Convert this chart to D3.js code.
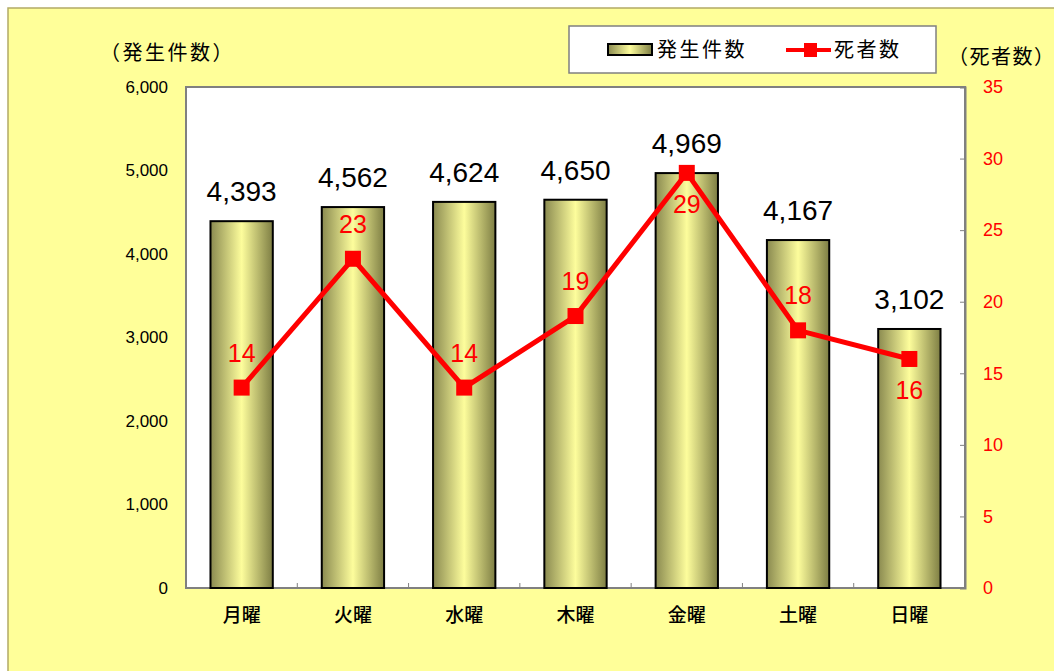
<!DOCTYPE html>
<html>
<head>
<meta charset="utf-8">
<script src="https://d3js.org/d3.v7.min.js"></script>
<style>
  body { margin: 0; background: #fff; }
  text { font-family: "Liberation Sans", Arial, sans-serif; }
  .jp { font-family: "Noto Sans CJK JP", sans-serif; }
</style>
</head>
<body>
<svg id="chart" width="1054" height="671"></svg>
<script>
// data
var days = ["月曜", "火曜", "水曜", "木曜", "金曜", "土曜", "日曜"];
var accidents = [4393, 4562, 4624, 4650, 4969, 4167, 3102];
var deaths = [14, 23, 14, 19, 29, 18, 16];
var deathLabelSide = ["above", "above", "above", "above", "below", "above", "below"];
var leftTicks = [0, 1000, 2000, 3000, 4000, 5000, 6000];
var rightTicks = [0, 5, 10, 15, 20, 25, 30, 35];

var svg = d3.select("#chart");

var plot = {left: 186, top: 87, right: 965, bottom: 588};

// gradient for the bars
var defs = svg.append("defs");
var grad = defs.append("linearGradient")
    .attr("id", "barGrad")
    .attr("x1", "0%").attr("x2", "100%")
    .attr("y1", "0%").attr("y2", "0%");
grad.append("stop").attr("offset", "0%").attr("stop-color", "#8a8a50");
grad.append("stop").attr("offset", "50%").attr("stop-color", "#fdfd9c");
grad.append("stop").attr("offset", "100%").attr("stop-color", "#7e7e44");

// background
svg.append("rect")
    .attr("x", 8).attr("y", 8)
    .attr("width", 1060).attr("height", 680)
    .attr("fill", "#ffff99")
    .attr("stroke", "#b3aa66")
    .attr("stroke-width", 1.5);

// plot area
svg.append("rect")
    .attr("x", plot.left).attr("y", plot.top)
    .attr("width", plot.right - plot.left)
    .attr("height", plot.bottom - plot.top)
    .attr("fill", "#fff")
    .attr("stroke", "#808080")
    .attr("stroke-width", 2);

var x = d3.scaleBand().domain(days).range([plot.left, plot.right]).paddingInner(0).paddingOuter(0);
var yLeft = d3.scaleLinear().domain([0, 6000]).range([plot.bottom, plot.top]);
var yRight = d3.scaleLinear().domain([0, 35]).range([plot.bottom, plot.top]);

var barW = x.bandwidth() * 0.56;

// category ticks on the bottom (inward)
svg.append("g").selectAll("line")
    .data(days.slice(1))
    .enter()
    .append("line")
    .attr("x1", d => x(d)).attr("x2", d => x(d))
    .attr("y1", plot.bottom).attr("y2", plot.bottom - 5)
    .attr("stroke", "#808080").attr("stroke-width", 1);

// left axis
var leftAxis = svg.append("g")
    .attr("transform", "translate(" + plot.left + ",0)")
    .call(d3.axisLeft(yLeft).tickValues(leftTicks).tickSize(0).tickPadding(18).tickFormat(d3.format(",")));
leftAxis.select(".domain").remove();
leftAxis.selectAll("text")
    .style("font-family", "'Liberation Sans', Arial, sans-serif")
    .style("font-size", "17px")
    .attr("fill", "#000");

// right axis
var rightAxis = svg.append("g")
    .attr("transform", "translate(" + plot.right + ",0)")
    .call(d3.axisRight(yRight).tickValues(rightTicks).tickSize(-5).tickPadding(18));
rightAxis.select(".domain").attr("stroke", "#808080").attr("stroke-width", 2);
rightAxis.selectAll("line").attr("stroke", "#808080");
rightAxis.selectAll("text")
    .style("font-family", "'Liberation Sans', Arial, sans-serif")
    .style("font-size", "18px")
    .attr("fill", "#ff0000");

// bars
svg.append("g").selectAll("rect")
    .data(accidents)
    .enter()
    .append("rect")
    .attr("x", (d, i) => x(days[i]) + (x.bandwidth() - barW) / 2)
    .attr("y", d => yLeft(d))
    .attr("width", barW)
    .attr("height", d => plot.bottom - yLeft(d))
    .attr("fill", "url(#barGrad)")
    .attr("stroke", "#000")
    .attr("stroke-width", 2);

// bar value labels
svg.append("g").selectAll("text")
    .data(accidents)
    .enter()
    .append("text")
    .attr("x", (d, i) => x(days[i]) + x.bandwidth() / 2)
    .attr("y", d => yLeft(d) - 20)
    .attr("text-anchor", "middle")
    .style("font-size", "28px")
    .attr("fill", "#000")
    .text(d => d3.format(",")(d));

// category labels
svg.append("g").selectAll("text")
    .data(days)
    .enter()
    .append("text")
    .attr("class", "jp")
    .attr("x", d => x(d) + x.bandwidth() / 2)
    .attr("y", plot.bottom + 34)
    .attr("text-anchor", "middle")
    .style("font-size", "19px")
    .style("font-weight", "500")
    .attr("fill", "#000")
    .text(d => d);

// death line
var line = d3.line()
    .x((d, i) => x(days[i]) + x.bandwidth() / 2)
    .y(d => yRight(d));

svg.append("path")
    .datum(deaths)
    .attr("d", line)
    .attr("fill", "none")
    .attr("stroke", "#ff0000")
    .attr("stroke-width", 5)
    .attr("stroke-linejoin", "miter");

svg.append("g").selectAll("rect")
    .data(deaths)
    .enter()
    .append("rect")
    .attr("x", (d, i) => x(days[i]) + x.bandwidth() / 2 - 8)
    .attr("y", d => yRight(d) - 8)
    .attr("width", 16)
    .attr("height", 16)
    .attr("fill", "#ff0000");

svg.append("g").selectAll("text")
    .data(deaths)
    .enter()
    .append("text")
    .attr("x", (d, i) => x(days[i]) + x.bandwidth() / 2)
    .attr("y", (d, i) => deathLabelSide[i] == "above" ? yRight(d) - 26 : yRight(d) + 40)
    .attr("text-anchor", "middle")
    .style("font-size", "25px")
    .attr("fill", "#ff0000")
    .text(d => d);

// axis titles
svg.append("text")
    .attr("class", "jp")
    .attr("x", 100).attr("y", 60)
    .style("font-size", "20px")
    .style("letter-spacing", "2.5px")
    .attr("fill", "#000")
    .text("（発生件数）");

svg.append("text")
    .attr("class", "jp")
    .attr("x", 948).attr("y", 64)
    .style("font-size", "20px")
    .style("letter-spacing", "1.5px")
    .attr("fill", "#000")
    .text("（死者数）");

// legend
var legend = svg.append("g");
legend.append("rect")
    .attr("x", 569).attr("y", 26)
    .attr("width", 367).attr("height", 47)
    .attr("fill", "#fff")
    .attr("stroke", "#808080")
    .attr("stroke-width", 1.5);
legend.append("rect")
    .attr("x", 608).attr("y", 44)
    .attr("width", 44).attr("height", 11)
    .attr("fill", "url(#barGrad)")
    .attr("stroke", "#000")
    .attr("stroke-width", 2);
legend.append("text")
    .attr("class", "jp")
    .attr("x", 657).attr("y", 57)
    .style("font-size", "20px")
    .style("letter-spacing", "2.5px")
    .attr("fill", "#000")
    .text("発生件数");
legend.append("line")
    .attr("x1", 786).attr("x2", 831)
    .attr("y1", 50).attr("y2", 50)
    .attr("stroke", "#ff0000")
    .attr("stroke-width", 4);
legend.append("rect")
    .attr("x", 804).attr("y", 43)
    .attr("width", 13).attr("height", 14)
    .attr("fill", "#ff0000");
legend.append("text")
    .attr("class", "jp")
    .attr("x", 834).attr("y", 57)
    .style("font-size", "20px")
    .style("letter-spacing", "2.5px")
    .attr("fill", "#000")
    .text("死者数");
</script>
</body>
</html>
